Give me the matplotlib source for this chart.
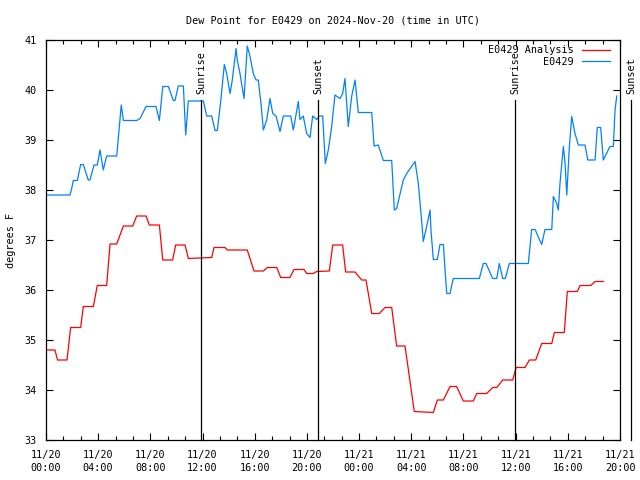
import numpy as np
import pandas as pd
import matplotlib
matplotlib.use("Agg")
import matplotlib.pyplot as plt

# hours after 2024-11-20 00:00 UTC
obs_hours = [0.0, 1.84, 1.97, 2.09, 2.40, 2.66, 2.86, 3.24, 3.37, 3.68, 3.93, 4.14, 4.39, 4.65,
             5.42, 5.77, 5.93, 6.95, 7.21, 7.67, 8.43, 8.69, 8.95, 9.38, 9.76, 9.89, 10.14,
             10.53, 10.71, 10.91, 12.06, 12.32, 12.70, 12.96, 13.13, 13.39, 13.67, 13.85,
             14.11, 14.28, 14.57, 14.66, 14.87, 15.18, 15.43, 15.64, 15.89, 16.10, 16.27,
             16.48, 16.66, 16.92, 17.17, 17.38, 17.63, 17.94, 18.19, 18.76, 18.96, 19.34,
             19.47, 19.72, 19.98, 20.24, 20.44, 20.75, 20.95, 21.21, 21.41, 21.64, 21.90,
             22.15, 22.54, 22.74, 22.92, 23.17, 23.43, 23.69, 23.94, 24.97, 25.15, 25.47,
             25.86, 26.50, 26.70, 26.88, 27.39, 27.65, 28.29, 28.54, 28.80, 28.92, 29.18,
             29.44, 29.51, 29.69, 30.00, 30.20, 30.46, 30.59, 30.72, 30.97, 31.22, 33.22,
             33.52, 33.73, 34.24, 34.55, 34.75, 35.01, 35.21, 35.52, 36.97, 37.23, 37.49,
             38.00, 38.25, 38.77, 38.89, 39.15, 39.27, 39.40, 39.66, 39.79, 39.92, 40.12,
             40.30, 40.55, 40.81, 41.32, 41.53, 42.09, 42.26, 42.52, 42.72, 43.23, 43.49,
             43.62, 43.75]
obs_dewpt = [37.9, 37.9, 38.03, 38.19, 38.19, 38.51, 38.51, 38.2, 38.2, 38.5, 38.5, 38.8, 38.4,
             38.68, 38.68, 39.7, 39.39, 39.39, 39.43, 39.67, 39.67, 39.39, 40.07, 40.07,
             39.79, 39.79, 40.08, 40.08, 39.1, 39.78, 39.78, 39.48, 39.48, 39.19, 39.19,
             39.77, 40.51, 40.33, 39.93, 40.2, 40.83, 40.6, 40.33, 39.83, 40.88, 40.67,
             40.33, 40.2, 40.2, 39.73, 39.2, 39.4, 39.83, 39.53, 39.48, 39.17, 39.48, 39.48,
             39.2, 39.77, 39.41, 39.48, 39.13, 39.05, 39.48, 39.41, 39.48, 39.48, 38.53,
             38.8, 39.27, 39.9, 39.83, 39.93, 40.23, 39.27, 39.87, 40.2, 39.55, 39.55, 38.88,
             38.9, 38.59, 38.59, 37.6, 37.63, 38.2, 38.33, 38.57, 38.13, 37.37, 36.97, 37.27,
             37.6, 37.2, 36.61, 36.61, 36.91, 36.91, 36.4, 35.93, 35.93, 36.23, 36.23, 36.53,
             36.53, 36.23, 36.23, 36.53, 36.23, 36.23, 36.53, 36.53, 37.21, 37.21, 36.91,
             37.21, 37.21, 37.87, 37.73, 37.6, 38.13, 38.87, 38.53, 37.9, 38.87, 39.47,
             39.13, 38.9, 38.9, 38.6, 38.6, 39.25, 39.25, 38.6, 38.87, 38.87, 39.6, 39.88]

ana_hours = [0.0, 0.69, 0.88, 1.61, 1.89, 2.66, 2.86, 3.63, 3.93, 4.65, 4.91, 5.42, 5.93, 6.65,
             6.95, 7.67, 7.92, 8.69, 8.95, 9.71, 9.94, 10.66, 10.91, 12.70, 12.88, 13.72,
             13.90, 15.43, 15.94, 16.66, 16.96, 17.69, 17.99, 18.70, 19.01, 19.78, 19.98,
             20.49, 20.75, 21.72, 21.98, 22.74, 22.97, 23.69, 24.20, 24.53, 24.97, 25.55,
             25.99, 26.50, 26.88, 27.52, 28.23, 29.69, 30.00, 30.46, 30.97, 31.48, 31.99,
             32.76, 33.02, 33.78, 34.24, 34.55, 35.01, 35.78, 36.03, 36.72, 37.05, 37.54,
             38.00, 38.77, 38.97, 39.73, 39.96, 40.73, 40.94, 41.76, 42.09, 42.72]
ana_dewpt = [34.8, 34.8, 34.6, 34.6, 35.25, 35.25, 35.67, 35.67, 36.09, 36.09, 36.92, 36.92,
             37.28, 37.28, 37.48, 37.48, 37.3, 37.3, 36.6, 36.6, 36.9, 36.9, 36.63, 36.65,
             36.85, 36.85, 36.8, 36.8, 36.38, 36.38, 36.45, 36.45, 36.25, 36.25, 36.41,
             36.41, 36.33, 36.33, 36.37, 36.38, 36.9, 36.9, 36.36, 36.36, 36.2, 36.2, 35.53,
             35.53, 35.65, 35.65, 34.88, 34.88, 33.57, 33.55, 33.8, 33.8, 34.07, 34.07,
             33.78, 33.78, 33.93, 33.93, 34.05, 34.05, 34.2, 34.2, 34.45, 34.45, 34.6, 34.6,
             34.93, 34.93, 35.15, 35.15, 35.97, 35.97, 36.09, 36.09, 36.17, 36.17]

sun_hours = [11.9, 20.87, 35.98, 44.87]
sun_labels = ["Sunrise", "Sunset", "Sunrise", "Sunset"]

start = pd.Timestamp("2024-11-20 00:00")
tick_hours = np.arange(0, 45, 4)
tick_labels = [(start + pd.Timedelta(hours=int(h))).strftime("%m/%d\n%H:%M") for h in tick_hours]

plt.rcParams["font.family"] = "DejaVu Sans Mono"
fs = 7.3

fig = plt.figure(figsize=(6.4, 4.8), dpi=100)
ax = fig.add_axes([46 / 640, 40 / 480, 574 / 640, 400 / 480])

ax.plot(ana_hours, ana_dewpt, color="#ff0000", lw=0.9, label="E0429 Analysis")
ax.plot(obs_hours, obs_dewpt, color="#0080ff", lw=0.9, label="E0429")

for h, lab in zip(sun_hours, sun_labels):
    ax.plot([h, h], [33, 39.8], color="black", lw=0.9, clip_on=False)
    ax.text(h, 39.93, lab, rotation=90, ha="center", va="bottom", fontsize=fs, clip_on=False)

ax.set_xlim(0, 44)
ax.set_ylim(33, 41)
ax.set_xticks(tick_hours)
ax.set_xticklabels(tick_labels, fontsize=fs, linespacing=1.45)
ax.set_xticks(np.arange(0, 44.01, 4 / 3), minor=True)
ax.set_yticks(np.arange(33, 42, 1))
ax.tick_params(axis="y", labelsize=fs, pad=7)
ax.tick_params(axis="x", pad=7)
ax.tick_params(which="both", direction="in", top=True, right=True, width=0.8)
ax.tick_params(which="major", length=5)
ax.tick_params(which="minor", length=3)
for s in ax.spines.values():
    s.set_linewidth(0.9)

ax.set_ylabel("degrees F", fontsize=fs, labelpad=6)
ax.set_title("Dew Point for E0429 on 2024-Nov-20 (time in UTC)", fontsize=fs, pad=12)

leg = ax.legend(loc="upper right", bbox_to_anchor=(1 - 5 / 574, 1.0), markerfirst=False,
                frameon=False, fontsize=fs, handlelength=2.8, borderaxespad=0.1,
                labelspacing=0.15, handletextpad=0.8)

plt.savefig("out.png", dpi=100)
